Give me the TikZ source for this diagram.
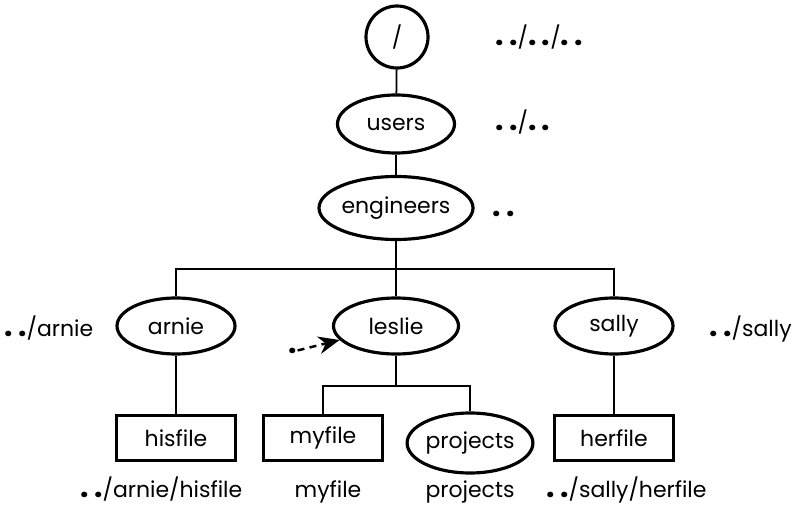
\documentclass[tikz,border=0pt]{standalone}
\usepackage{fontspec}
\setmainfont{Poppins}
\usepackage{tikz}
\usetikzlibrary{arrows.meta, positioning, shapes.geometric}
% heavy, spaced dots as in the drawing
\newcommand{\updots}{{\fontsize{17}{17}\selectfont\bfseries\addfontfeature{LetterSpace=18}..}}
\newcommand{\herepoint}{{\fontsize{17}{17}\selectfont\bfseries .}}

\begin{document}
\begin{tikzpicture}[
  x=0.2mm, y=-0.2mm,
  font=\fontsize{12.5}{14}\selectfont,
  dirnode/.style={ellipse, draw, line width=1.8pt, inner sep=0pt,
                  minimum width=#1, minimum height=56*0.2mm},
  filenode/.style={rectangle, draw, line width=1.6pt, inner sep=0pt,
                   minimum width=119*0.2mm, minimum height=45*0.2mm},
  link/.style={line width=1pt},
  pathlbl/.style={inner sep=0pt}
]
\useasboundingbox (0,0) rectangle (795,506);

% top of the tree
\node[circle, draw, line width=1.8pt, minimum size=62*0.2mm, inner sep=0pt] (root) at (397,37) {/};
\node[pathlbl, anchor=base west] (rootlbl) at (495,46) {\updots/\updots/\updots};

\node[dirnode=117*0.2mm, minimum height=58*0.2mm] (users) at (396,124) {users};
\node[pathlbl, anchor=base west] (userslbl) at (495,131) {\updots/\updots};

\node[dirnode=133*0.2mm, minimum height=63*0.2mm] (eng) at (396,208) {engineers};
\node[pathlbl, anchor=base west] (englbl) at (492,217) {\updots};

% home directories
\node[dirnode=118*0.2mm] (arnie) at (176,326) {arnie};
\node[pathlbl, anchor=base west] (arnielbl) at (4,336) {\updots/arnie};

\node[dirnode=125*0.2mm] (leslie) at (396,326) {leslie};
\node[pathlbl, anchor=base] (cwd) at (293,353) {\herepoint};

\node[dirnode=118*0.2mm] (sally) at (614,326) {sally};
\node[pathlbl, anchor=base east] (sallylbl) at (792,336) {\updots/sally};

% files below
\node[filenode] (hisfile) at (176,438) {hisfile};
\node[filenode] (myfile) at (323,438) {myfile};
\node[dirnode=120*0.2mm, minimum height=60*0.2mm] (projects) at (470,443) {projects};
\node[filenode] (herfile) at (614,438) {herfile};

\node[pathlbl, anchor=base west] (hislbl) at (80,497) {\updots/arnie/hisfile};
\node[pathlbl, anchor=base] (mylbl) at (328,497) {myfile};
\node[pathlbl, anchor=base] (projlbl) at (470,497) {projects};
\node[pathlbl, anchor=base west] (herlbl) at (546,497) {\updots/sally/herfile};

% connectors
\coordinate (engsplit) at (396,269);
\coordinate (lessplit) at (396,386);
\draw[link] (root) -- (users);
\draw[link] (users) -- (eng);
\draw[link] (eng) -- (engsplit);
\draw[link] (arnie.north) |- (engsplit) -| (sally.north);
\draw[link] (engsplit) -- (leslie);
\draw[link] (arnie) -- (hisfile);
\draw[link] (sally) -- (herfile);
\draw[link] (leslie) -- (lessplit);
\draw[link] (myfile.north) |- (lessplit) -| (projects.north);

\draw[line width=1.4pt, dash pattern=on 4pt off 3pt, -{Stealth[length=12pt, width=10pt]}] (cwd.east) -- (leslie);
\end{tikzpicture}
\end{document}
